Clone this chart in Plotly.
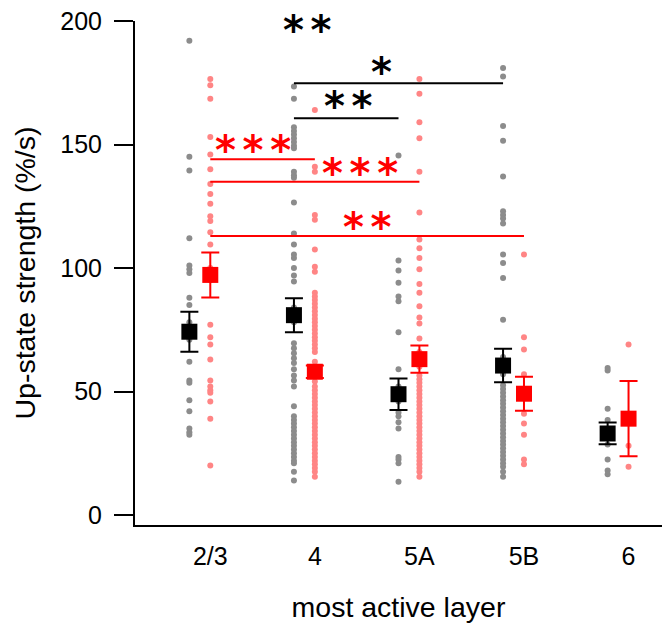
import plotly.graph_objects as go

# Up-state strength per most-active layer; control (black) vs. red group
layers = ["2/3", "4", "5A", "5B", "6"]

black_cells = [
    [192, 145, 139.5, 112, 101, 99.5, 98, 88, 85, 78, 71, 62, 54.5, 53.5, 46.5, 42, 35, 33.5, 32.5],
    [173.5, 168.5, 157, 155.5, 154, 152.5, 151, 149.5, 148.5, 139, 137.5, 136.5, 126.5, 114, 109.5,
     105.5, 104, 100, 97, 94.5, 84, 78, 69.5, 67.5, 65.5, 63.5, 61.5, 59, 56.5, 54.5, 52, 44, 40,
     38.5, 37, 35.5, 34, 32.5, 31, 29.5, 28, 26.5, 25, 23.5, 22, 21, 17.5, 14],
    [145.5, 103, 99, 94, 88.5, 86.5, 74, 59, 52, 46, 41.5, 40, 37.5, 35, 23.5, 22.5, 21, 13.5],
    [181, 177.5, 157.5, 151.5, 137, 123, 121.5, 120, 118, 105.5, 102, 96, 79, 64, 57, 52.5, 51, 49.5,
     48, 46.5, 45, 43.5, 42, 40.5, 39, 37.5, 36, 34.5, 33, 31.5, 30, 28.5, 27, 25.5, 24, 22.5, 21,
     19.5, 17.5, 15.5],
    [59.5, 58.5, 43, 38.5, 33, 28.5, 22.5, 18, 16.5],
]
red_cells = [
    [176.5, 174, 168.5, 153, 146, 140, 134, 130, 126, 121, 119, 114.5, 109.5, 100, 95, 77, 72, 69,
     63, 54.5, 52, 50.5, 49.5, 46, 39, 20],
    [164, 141, 139, 121.5, 119.5, 107.5, 100.5, 98.5, 90, 88.5, 87, 85.5, 84, 82.5, 81, 79.5, 78,
     76.5, 75, 73.5, 72, 70.5, 69, 67.5, 66, 62, 60, 58, 56, 54, 52, 50.5, 49, 47.5, 46, 44.5, 43,
     41.5, 40, 38.5, 37, 35.5, 34, 32.5, 31, 29.5, 28, 26.5, 25, 23.5, 22, 20.5, 19, 17.5, 15.5],
    [176.5, 170.5, 159, 152.5, 139, 122.5, 111.5, 108, 104, 99.5, 93.5, 90, 84.5, 80, 77.5, 71.5, 66,
     60, 56.5, 55, 53.5, 52, 50.5, 49, 47.5, 46, 44.5, 43, 41.5, 40, 38.5, 37, 35.5, 34, 32.5, 31,
     29.5, 28, 26.5, 25, 23.5, 22, 20.5, 19, 17.5, 15.5],
    [105.5, 72, 67, 57, 41, 37, 32.5, 22.5, 20.5],
    [69, 28, 19.5],
]

black_mean = [74.2, 80.9, 48.9, 60.5, 33.0]
black_sem = [8.1, 6.9, 6.4, 6.8, 4.4]
red_mean = [97.2, 58.0, 63.1, 49.1, 39.0]
red_sem = [9.1, 2.5, 5.5, 6.9, 15.2]

# significance brackets: (colour, from layer, to layer, bar height)
brackets = [
    ("black", 1, 3, 174.8),
    ("black", 1, 2, 160.6),
    ("red", 0, 1, 144.0),
    ("red", 0, 2, 134.9),
    ("red", 0, 3, 113.0),
]
# star labels: (colour, number of stars, x, y of the stars' centre)
star_labels = [
    ("black", 2, 1.13, 197.8),
    ("black", 1, 1.84, 180.8),
    ("black", 2, 1.52, 167.3),
    ("red", 3, 0.61, 149.4),
    ("red", 3, 1.63, 140.1),
    ("red", 2, 1.70, 118.4),
]

RED_SHIFT = 0.2
GREY_DOT = "#8c8c8c"
PINK_DOT = "#ff8585"
RED = "#ff0000"
FONT = "Liberation Sans, Arial, sans-serif"
STAR_FONT = "DejaVu Sans"
STAR_SIZE = 40

fig = go.Figure()

for i, vals in enumerate(black_cells):
    fig.add_trace(go.Scatter(
        x=[i] * len(vals), y=vals, mode="markers",
        marker=dict(size=6, color=GREY_DOT), showlegend=False, hoverinfo="skip"))
for i, vals in enumerate(red_cells):
    fig.add_trace(go.Scatter(
        x=[i + RED_SHIFT] * len(vals), y=vals, mode="markers",
        marker=dict(size=6, color=PINK_DOT), showlegend=False, hoverinfo="skip"))

idx = list(range(len(layers)))
fig.add_trace(go.Scatter(
    x=idx, y=black_mean, mode="markers",
    marker=dict(symbol="square", size=16, color="black"),
    error_y=dict(type="data", array=black_sem, color="black", thickness=2, width=9),
    showlegend=False))
fig.add_trace(go.Scatter(
    x=[i + RED_SHIFT for i in idx], y=red_mean, mode="markers",
    marker=dict(symbol="square", size=16, color=RED),
    error_y=dict(type="data", array=red_sem, color=RED, thickness=2, width=9),
    showlegend=False))

for colour, a, b, h in brackets:
    shift = RED_SHIFT if colour == "red" else 0.0
    line_col = RED if colour == "red" else "black"
    fig.add_shape(type="line", xref="x", yref="y", x0=a + shift, x1=b + shift, y0=h, y1=h,
                  line=dict(color=line_col, width=2))

for colour, n, x, y in star_labels:
    col = RED if colour == "red" else "black"
    # six-per-em spaces keep the asterisks apart
    text = "<b>" + "\u2006".join(["*"] * n) + "</b>"
    fig.add_annotation(x=x, y=y, text=text, showarrow=False, yanchor="middle",
                       yshift=-0.1 * STAR_SIZE,
                       font=dict(family=STAR_FONT, size=STAR_SIZE, color=col))

fig.update_layout(
    width=662, height=628,
    margin=dict(l=135, r=0, t=21, b=103),
    plot_bgcolor="white", paper_bgcolor="white",
    font=dict(family=FONT, size=25, color="black"),
    xaxis=dict(
        range=[-0.52, 4.52], showgrid=False, zeroline=False,
        showline=True, linecolor="black", linewidth=2,
        tickvals=[i + RED_SHIFT for i in idx], ticktext=layers,
        ticks="outside", ticklen=8, tickcolor="rgba(0,0,0,0)",
        title=dict(text="most active layer", standoff=28, font=dict(size=28.5)),
    ),
    yaxis=dict(
        range=[-4.05, 200], showgrid=False, zeroline=False,
        showline=True, linecolor="black", linewidth=2,
        tickvals=[0, 50, 100, 150, 200],
        ticks="outside", ticklen=19, tickwidth=2, tickcolor="black",
        ticklabelstandoff=7,
        title=dict(text="Up-state strength (%/s)", standoff=16, font=dict(size=28.5)),
    ),
)

fig.write_html("out.html")
